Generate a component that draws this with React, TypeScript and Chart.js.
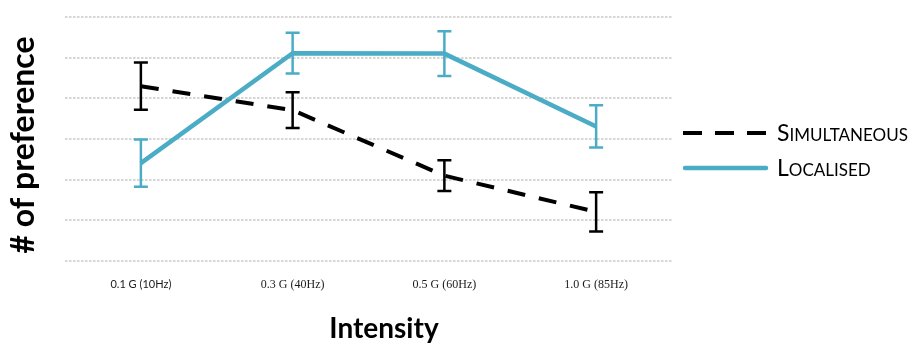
import React, { useEffect, useRef } from "react";
import { Chart, registerables } from "chart.js";

Chart.register(...registerables);

const categories = ["0.1 G (10Hz)", "0.3 G (40Hz)", "0.5 G (60Hz)", "1.0 G (85Hz)"];
const simultaneous = [4.3, 3.71, 2.1, 1.21];
const simultaneousErr = [0.58, 0.44, 0.38, 0.48];
const localised = [2.41, 5.11, 5.1, 3.31];
const localisedErr = [0.58, 0.5, 0.55, 0.52];
const seriesNames = ["Simultaneous", "Localised"];
const yTitle = "# of preference";
const xTitle = "Intensity";

const BLUE = "#4bacc6";
const BLACK = "#000000";

const errorBarPlugin = {
  id: "errorBars",
  afterDatasetsDraw(chart: any) {
    const { ctx } = chart;
    const x = chart.scales.x;
    const y = chart.scales.y;
    const sets = [
      { vals: localised, errs: localisedErr, color: BLUE },
      { vals: simultaneous, errs: simultaneousErr, color: BLACK },
    ];
    ctx.save();
    ctx.lineWidth = 2.5;
    ctx.lineCap = "butt";
    for (const s of sets) {
      ctx.strokeStyle = s.color;
      s.vals.forEach((v, i) => {
        const px = x.getPixelForValue(i);
        const top = y.getPixelForValue(v + s.errs[i]);
        const bot = y.getPixelForValue(v - s.errs[i]);
        ctx.beginPath();
        ctx.moveTo(px, top);
        ctx.lineTo(px, bot);
        ctx.moveTo(px - 7, top);
        ctx.lineTo(px + 7, top);
        ctx.moveTo(px - 7, bot);
        ctx.lineTo(px + 7, bot);
        ctx.stroke();
      });
    }
    ctx.restore();
  },
};

function drawSmallCaps(ctx: any, text: string, x: number, y: number) {
  const first = text[0].toUpperCase();
  const rest = text.slice(1).toUpperCase();
  ctx.font = "23px Lato";
  ctx.fillText(first, x, y);
  const w = ctx.measureText(first).width;
  ctx.font = "17px Lato";
  ctx.fillText(rest, x + w, y);
}

const decorPlugin = {
  id: "decor",
  afterDraw(chart: any) {
    const { ctx } = chart;
    ctx.save();
    ctx.fillStyle = "#000";
    // y title
    ctx.save();
    ctx.translate(34, 145);
    ctx.rotate(-Math.PI / 2);
    ctx.font = "bold 32px Lato";
    ctx.textAlign = "center";
    ctx.textBaseline = "alphabetic";
    ctx.fillText(yTitle, 0, 0);
    ctx.restore();
    // x title
    ctx.font = "bold 28px Lato";
    ctx.textAlign = "center";
    ctx.textBaseline = "alphabetic";
    ctx.fillText(xTitle, 384, 338);
    // legend
    ctx.textAlign = "left";
    ctx.lineWidth = 4;
    ctx.strokeStyle = BLACK;
    ctx.setLineDash([19, 13]);
    ctx.beginPath();
    ctx.moveTo(683, 133);
    ctx.lineTo(768, 133);
    ctx.stroke();
    ctx.setLineDash([]);
    ctx.strokeStyle = BLUE;
    ctx.lineWidth = 4.5;
    ctx.lineCap = "round";
    ctx.beginPath();
    ctx.moveTo(685, 168);
    ctx.lineTo(766, 168);
    ctx.stroke();
    ctx.fillStyle = "#000";
    drawSmallCaps(ctx, seriesNames[0], 777, 141);
    drawSmallCaps(ctx, seriesNames[1], 777, 176);
    ctx.restore();
  },
};

export default function App() {
  const ref = useRef<HTMLCanvasElement | null>(null);
  useEffect(() => {
    if (!ref.current) return;
    const chart = new Chart(ref.current, {
      type: "line",
      data: {
        labels: categories,
        datasets: [
          {
            label: seriesNames[0],
            data: simultaneous,
            borderColor: BLACK,
            borderWidth: 4,
            borderDash: [18, 14],
            pointRadius: 0,
            tension: 0,
            fill: false,
          },
          {
            label: seriesNames[1],
            data: localised,
            borderColor: BLUE,
            borderWidth: 4.5,
            pointRadius: 0,
            tension: 0,
            fill: false,
          },
        ],
      },
      options: {
        responsive: false,
        animation: false,
        devicePixelRatio: 1,
        layout: { padding: { left: 65, right: 243, top: 17, bottom: 34.5 } },
        plugins: { legend: { display: false }, tooltip: { enabled: false } },
        scales: {
          x: {
            offset: true,
            grid: { display: false, drawTicks: false },
            border: { display: false },
            ticks: {
              padding: 17,
              color: "#1a1a1a",
              font: (c: any) =>
                c.index === 0
                  ? { family: "Lato", size: 11 }
                  : { family: "Liberation Serif", size: 12 },
            },
          },
          y: {
            min: 0,
            max: 6,
            ticks: { display: false, stepSize: 1 },
            border: { display: false, dash: [2.5, 1.5] },
            grid: {
              color: "#d6d6d6",
              lineWidth: 2,
              drawTicks: false,
            },
          },
        },
      },
      plugins: [errorBarPlugin, decorPlugin],
    } as any);
    return () => chart.destroy();
  }, []);
  return (
    <div style={{ position: "fixed", left: 0, top: 0, width: 915, height: 344, background: "#fff" }}>
      <canvas ref={ref} width={915} height={344} />
    </div>
  );
}
